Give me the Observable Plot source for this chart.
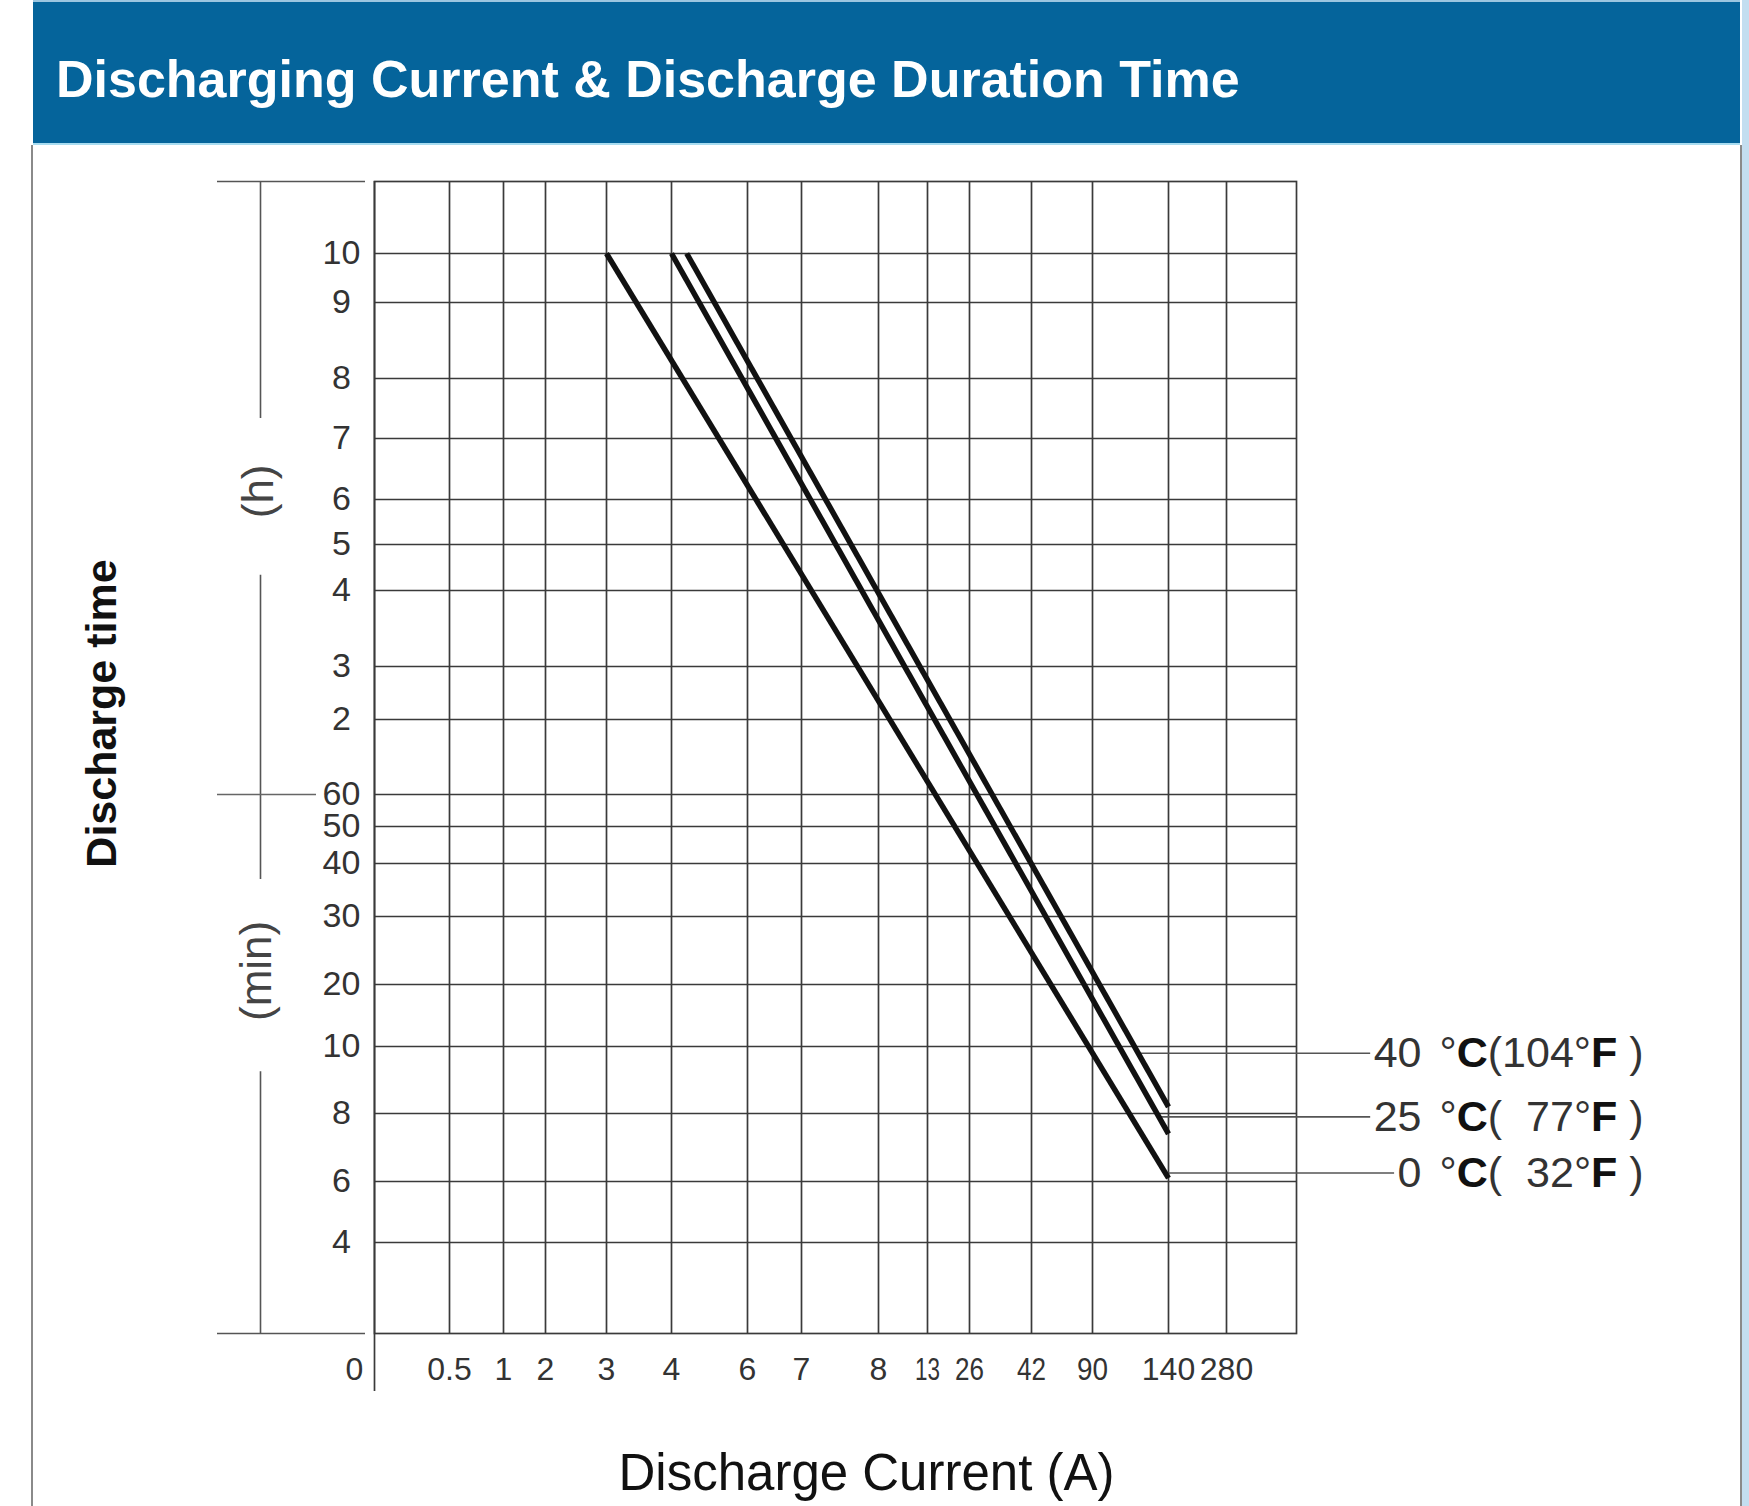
<!DOCTYPE html>
<html>
<head>
<meta charset="utf-8">
<script src="https://cdn.jsdelivr.net/npm/d3@7"></script>
<script src="https://cdn.jsdelivr.net/npm/@observablehq/plot@0.6"></script>
<style>
  html, body { margin: 0; padding: 0; background: #fff; }
  body { width: 1749px; height: 1506px; position: relative; overflow: hidden; font-family: "Liberation Sans", Arial, sans-serif; }
  #bar { position: absolute; left: 33px; top: 0; width: 1707px; height: 145px; background: #05649b; border-top: 2px solid #9cc6e0; border-bottom: 2px solid #a8dcf0; box-sizing: border-box; }
  #title { position: absolute; left: 56px; top: 53px; font: bold 52px/52px "Liberation Sans", Arial, sans-serif; color: #fff; white-space: nowrap; }
  #panel { position: absolute; left: 31px; top: 145px; width: 1711px; height: 1361px; border-left: 2px solid #8a8a8a; border-right: 2px solid #8a8a8a; box-sizing: border-box; }
  #edge { position: absolute; left: 1742px; top: 0; width: 7px; height: 1506px; background: #c3def0; }
  #chart { position: absolute; left: 0; top: 144px; }
</style>
</head>
<body>
<div id="edge"></div>
<div id="bar"></div>
<div id="title">Discharging Current &amp; Discharge Duration Time</div>
<div id="panel"></div>
<div id="chart"></div>
<script>
// ---------- data ----------
const xTicks = [0.5, 1, 2, 3, 4, 6, 7, 8, 13, 26, 42, 90, 140, 280];          // A
const xTickLabels = ["0.5", "1", "2", "3", "4", "6", "7", "8", "13", "26", "42", "90", "140", "280"];
const yTicks = [600, 540, 480, 420, 360, 300, 240, 180, 120, 60, 50, 40, 30, 20, 10, 8, 6, 4]; // minutes
const yTickLabels = ["10", "9", "8", "7", "6", "5", "4", "3", "2", "60", "50", "40", "30", "20", "10", "8", "6", "4"];

const seriesNames = ["0 °C", "25 °C", "40 °C"];
const currentStart = [3, 4, 4.4];     // A at 10 h
const timeStart = [600, 600, 600];    // min
const currentEnd = [140, 140, 140];   // A
const timeEnd = [6.1, 7.4, 8.2];      // min

const tempNumbers = ["40", "25", "0"];
const tempUnits = ["°C(104°F )", "°C( 77°F )", "°C( 32°F )"];
const leaderTime = [9.8, 7.9, 6.25];  // min
const leaderFrom = [120, 135, 140];   // A

const bracketSegments = [[440, 660], [37, 260], [0, 9.25]]; // min, the (h)/(min) side bracket

// ---------- scale layout (irregular chart paper) ----------
const W = 1749, H = 1362;
const xDomain = [0, 0.5, 1, 2, 3, 4, 6, 7, 8, 13, 26, 42, 90, 140, 280, 400];
const xRange = [374, 449, 503, 545, 606, 671, 747, 801, 878, 927, 969, 1031, 1092, 1168, 1226, 1296];
const yDomain = [0, 4, 6, 8, 10, 20, 30, 40, 50, 60, 120, 180, 240, 300, 360, 420, 480, 540, 600, 660];
const yRange = [1189, 1098, 1037, 969, 902, 840, 772, 719, 682, 650, 575, 522, 446, 400, 355, 294, 234, 158, 109, 37];
const xMax = xDomain[xDomain.length - 1], yMax = yDomain[yDomain.length - 1];

const FONT = '"Liberation Sans", Arial, sans-serif';
const gridColor = "#3a3a3a", gridW = 1.7;
const labelSize = 43, numDx = 125, unitDx = 143;

// ---------- derived tables ----------
const lineRows = seriesNames.flatMap((s, i) => [
  {series: s, current: currentStart[i], time: timeStart[i]},
  {series: s, current: currentEnd[i], time: timeEnd[i]}
]);
const yTickRows = yTicks.map((v, i) => ({v, label: yTickLabels[i]}));
const xTickRows = xTicks.map((v, i) => ({v, label: xTickLabels[i]}));
const tempRows = tempNumbers.map((n, i) => ({num: n, unit: tempUnits[i], time: leaderTime[i], from: leaderFrom[i]}));

const ctx = document.createElement("canvas").getContext("2d");
ctx.font = `${labelSize}px ${FONT}`;
const digitGap = ctx.measureText("7").width - ctx.measureText(" ").width;

const leaders = tempRows.map(r => Plot.ruleY([r], {
  y: "time", x1: "from", x2: () => xMax,
  insetRight: -(numDx - ctx.measureText(r.num).width - 3),
  stroke: "#555", strokeWidth: 1.6
}));

const chart = Plot.plot({
  width: W, height: H,
  marginLeft: xRange[0], marginRight: W - xRange[xRange.length - 1],
  marginTop: yRange[yRange.length - 1], marginBottom: H - yRange[0],
  style: {background: "transparent", overflow: "visible", fontFamily: FONT},
  x: {type: "linear", domain: xDomain, range: xRange, axis: null},
  y: {type: "linear", domain: yDomain, range: yRange, axis: null},
  marks: [
    // chart paper grid
    Plot.ruleY(yTicks, {stroke: gridColor, strokeWidth: gridW}),
    Plot.ruleX(xTicks, {stroke: gridColor, strokeWidth: gridW}),
    Plot.frame({stroke: gridColor, strokeWidth: gridW}),
    Plot.ruleX([0], {insetBottom: -58, stroke: gridColor, strokeWidth: gridW}),
    // left bracket
    Plot.ruleX(bracketSegments, {x: () => 0, y1: d => d[0], y2: d => d[1], dx: -114, stroke: "#555", strokeWidth: 1.6}),
    Plot.ruleY([yMax, 0], {x1: () => 0, x2: () => 0, insetLeft: -157, insetRight: 9, stroke: "#555", strokeWidth: 1.6}),
    Plot.ruleY([60], {x1: () => 0, x2: () => 0, insetLeft: -157, insetRight: 58, stroke: "#666", strokeWidth: 1.6}),
    Plot.text(["(h)"], {x: () => 0, y: () => 368, dx: -116, rotate: -90, text: d => d, fontSize: 44, fill: "#444", textAnchor: "middle", lineAnchor: "middle"}),
    Plot.text(["(min)"], {x: () => 0, y: () => 22, dx: -118, rotate: -90, text: d => d, fontSize: 44, fill: "#444", textAnchor: "middle", lineAnchor: "middle"}),
    Plot.text(["Discharge time"], {frameAnchor: "left", dx: -272, dy: -44, rotate: -90, text: d => d, fontSize: 43, fontWeight: "bold", fill: "#111", textAnchor: "middle", lineAnchor: "middle"}),
    // tick labels
    Plot.text(yTickRows, {x: () => 0, y: "v", text: "label", dx: -33, fontSize: 34, fill: "#333", textAnchor: "middle", lineAnchor: "middle"}),
    Plot.text(xTickRows, {x: "v", y: () => 0, text: "label", dy: 36, fontSize: 32, fill: "#333", textAnchor: "middle", lineAnchor: "middle"}),
    Plot.text(["0"], {x: () => 0, y: () => 0, text: d => d, dx: -20, dy: 36, fontSize: 32, fill: "#333", textAnchor: "middle", lineAnchor: "middle"}),
    Plot.text(["Discharge Current (A)"], {frameAnchor: "bottom", dx: 31, dy: 140, text: d => d, fontSize: 51, fill: "#111", textAnchor: "middle", lineAnchor: "middle"}),
    // leaders and temperature labels
    ...leaders,
    Plot.text(tempRows, {x: () => xMax, y: "time", text: "num", dx: numDx, fontSize: labelSize, fill: "#333", textAnchor: "end", lineAnchor: "middle"}),
    Plot.text(tempRows, {x: () => xMax, y: "time", text: "unit", dx: unitDx, fontSize: labelSize, fill: "#333", textAnchor: "start", lineAnchor: "middle"}),
    // discharge curves
    Plot.line(lineRows, {x: "current", y: "time", z: "series", stroke: "#111", strokeWidth: 5.5, strokeLinecap: "butt"})
  ]
});

const SVGNS = "http://www.w3.org/2000/svg";
// bold C / F inside temperature labels, digit-wide blank before two-digit °F values
chart.querySelectorAll("text").forEach(t => {
  const s = t.textContent;
  if (!s.includes("°C(")) return;
  t.textContent = "";
  t.setAttribute("style", "white-space:pre");
  s.split(/([CF])/).forEach(p => {
    if (!p) return;
    const m = p.match(/^\( (\d.*)$/);
    const pieces = m ? ["( ", m[1]] : [p];
    pieces.forEach((q, k) => {
      const ts = document.createElementNS(SVGNS, "tspan");
      ts.textContent = q;
      if (m && k === 1) ts.setAttribute("dx", digitGap.toFixed(1));
      if (q === "C" || q === "F") { ts.setAttribute("font-weight", "bold"); ts.setAttribute("fill", "#111"); }
      t.appendChild(ts);
    });
  });
});
// the narrow two-digit current labels of the original chart paper
const narrow = {"13": 25, "26": 29, "42": 29, "90": 31};
const xLabelSet = new Set(xTickLabels);
chart.querySelectorAll("text").forEach(t => {
  const s = t.textContent;
  if (narrow[s] && xLabelSet.has(s) && !yTickLabels.includes(s)) {
    t.setAttribute("textLength", narrow[s]);
    t.setAttribute("lengthAdjust", "spacingAndGlyphs");
  }
});

document.getElementById("chart").appendChild(chart);
</script>
</body>
</html>
